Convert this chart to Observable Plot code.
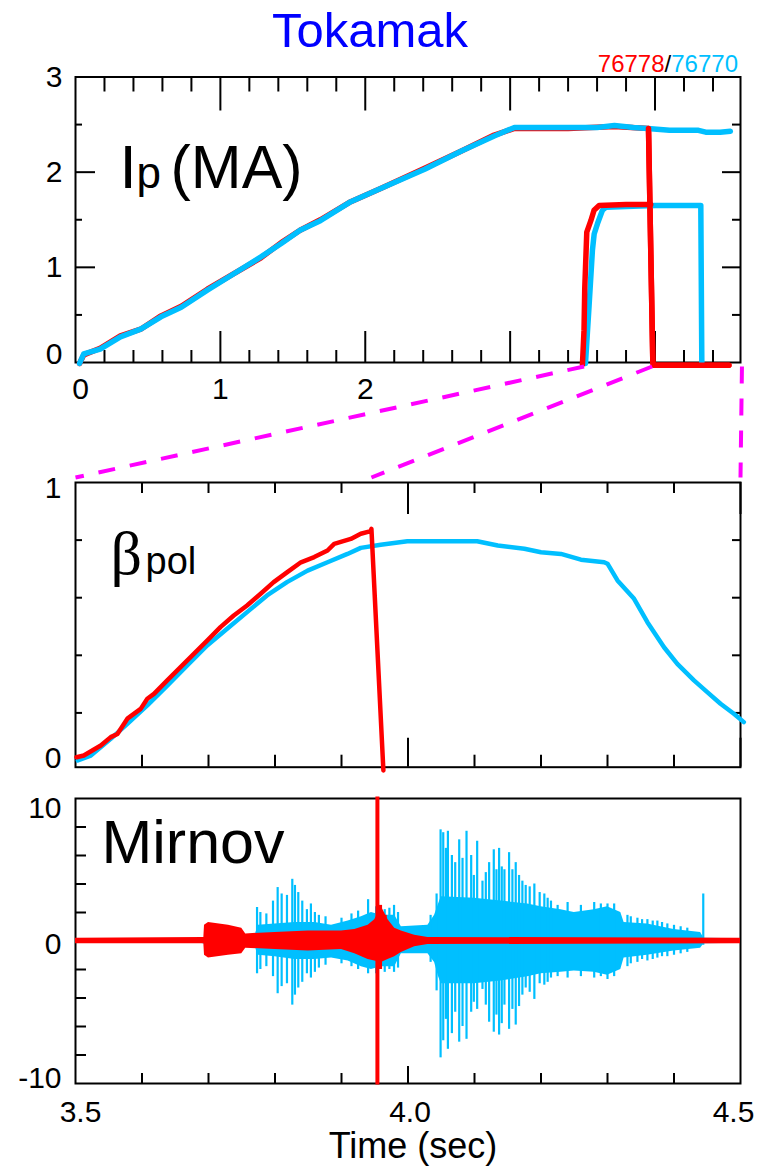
<!DOCTYPE html>
<html><head><meta charset="utf-8">
<script src="https://cdn.jsdelivr.net/npm/d3@7"></script>
<script src="https://cdn.jsdelivr.net/npm/@observablehq/plot@0.6"></script>
<style>
body{margin:0;background:#fff;}
#chart{position:relative;width:759px;height:1171px;font-family:"Liberation Sans",Arial,sans-serif;}
#title{position:absolute;left:0;width:740px;text-align:center;top:6px;font-size:49px;line-height:1;color:#0000ff;}
#legend{position:absolute;right:21px;top:52px;font-size:24px;line-height:1;color:#000;}
</style></head>
<body><div id="chart">
<div id="title">Tokamak</div>
<div id="legend"><span style="color:#ff0000">76778</span>/<span style="color:#00bfff">76770</span></div>
</div>
<script>
// ---------- data ----------
const shots = ["76778", "76770"];
// Ip panel (MA vs time s)
const ipBlueT = [0.028,0.057,0.17,0.31,0.45,0.59,0.73,0.91,1.09,1.28,1.42,1.55,1.69,1.90,2.11,2.41,2.66,2.89,3.03,3.40,3.60,3.72,3.85,3.95,4.10,4.30,4.35,4.45,4.52];
const ipBlueV = [-0.01,0.09,0.14,0.27,0.35,0.48,0.58,0.76,0.93,1.11,1.25,1.39,1.49,1.69,1.83,2.03,2.22,2.38,2.47,2.47,2.47,2.49,2.47,2.46,2.44,2.44,2.42,2.42,2.43];
const ipRedT = [0.028,0.057,0.17,0.31,0.45,0.59,0.73,0.91,1.09,1.28,1.42,1.55,1.69,1.90,2.11,2.41,2.66,2.89,3.03,3.40,3.72,3.955,3.985,3.99,4.51];
const ipRedV = [-0.01,0.08,0.15,0.28,0.35,0.49,0.59,0.77,0.93,1.10,1.26,1.39,1.50,1.69,1.83,2.04,2.22,2.39,2.46,2.46,2.48,2.46,0.0,-0.03,-0.03];
const stepBlueT = [3.52,3.545,3.568,3.58,3.603,3.637,3.66,3.80,4.00,4.20,4.316,4.323];
const stepBlueV = [-0.01,0.6,1.18,1.35,1.46,1.60,1.63,1.64,1.65,1.65,1.65,0.0];
const stepRedT = [3.499,3.510,3.515,3.529,3.557,3.579,3.614,3.80,3.97];
const stepRedV = [-0.02,0.34,0.78,1.37,1.49,1.60,1.65,1.66,1.66];
// beta_pol panel
const betaRedT = [3.5015,3.5125,3.538,3.553,3.563,3.578,3.598,3.608,3.618,3.638,3.658,3.678,3.698,3.718,3.738,3.758,3.778,3.798,3.818,3.839,3.859,3.879,3.889,3.914,3.929,3.944,3.945,3.963];
const betaRedV = [0.046,0.052,0.087,0.116,0.127,0.18,0.214,0.249,0.266,0.313,0.359,0.405,0.451,0.498,0.538,0.573,0.613,0.654,0.688,0.723,0.741,0.764,0.787,0.804,0.822,0.831,0.839,0.0];
const betaBlueT = [3.5035,3.523,3.553,3.578,3.608,3.638,3.668,3.698,3.728,3.758,3.788,3.818,3.849,3.879,3.909,3.929,3.959,3.999,4.104,4.135,4.175,4.20,4.23,4.26,4.295,4.30,4.315,4.34,4.36,4.385,4.405,4.43,4.45,4.47,4.49,4.505];
const betaBlueV = [0.035,0.052,0.11,0.162,0.226,0.295,0.365,0.434,0.492,0.55,0.608,0.654,0.694,0.723,0.752,0.773,0.784,0.796,0.796,0.781,0.770,0.758,0.752,0.732,0.723,0.718,0.66,0.596,0.515,0.428,0.37,0.313,0.272,0.232,0.197,0.168];
// Mirnov envelopes (lo/hi) and spikes
const mirBlueT  = [3.50,3.69,3.70,3.77,3.775,3.80,3.83,3.86,3.885,3.91,3.93,3.945,3.96,3.98,3.99,4.03,4.04,4.046,4.05,4.10,4.14,4.18,4.20,4.23,4.25,4.28,4.30,4.32,4.325,4.36,4.40,4.44,4.445,4.50];
const mirBlueLo = [-0.15,-0.18,-0.3,-0.4,-1.0,-1.1,-1.3,-1.3,-1.2,-1.4,-1.8,-2.0,-1.8,-1.8,-0.9,-0.9,-1.5,-2.5,-3.0,-3.0,-2.8,-2.5,-2.3,-2.2,-2.1,-2.2,-2.4,-2.0,-1.2,-1.0,-0.7,-0.5,-0.2,-0.15];
const mirBlueHi = [0.15,0.18,0.3,0.4,1.1,1.2,1.3,1.3,1.1,1.4,1.7,2.0,1.8,1.8,1.0,1.1,1.8,2.6,3.1,3.0,2.8,2.6,2.4,2.2,2.0,2.2,2.4,2.0,1.3,1.2,0.8,0.6,0.2,0.15];
const mirBlueSpikeT  = [3.773,3.778,3.787,3.797,3.804,3.810,3.818,3.826,3.830,3.835,3.841,3.848,3.854,3.860,3.866,3.876,3.900,3.915,3.925,3.94,3.952,3.965,3.972,3.979,3.985,4.034,4.043,4.049,4.053,4.057,4.060,4.066,4.071,4.077,4.082,4.088,4.095,4.099,4.104,4.112,4.117,4.122,4.129,4.133,4.137,4.141,4.145,4.152,4.157,4.162,4.167,4.172,4.177,4.183,4.190,4.198,4.205,4.210,4.215,4.225,4.24,4.26,4.28,4.29,4.30,4.31,4.33,4.335,4.345,4.352,4.36,4.368,4.375,4.382,4.39,4.40,4.41,4.42,4.444];
const mirBlueSpikeLo = [-2.3,-2.0,-1.8,-2.5,-3.7,-3.2,-3.0,-4.5,-3.8,-3.3,-2.9,-2.3,-2.6,-2.2,-1.9,-1.7,-1.6,-1.8,-2.0,-2.3,-2.3,-2.2,-2.0,-2.2,-1.9,-1.5,-3.5,-8.2,-7.0,-5.5,-7.6,-6.5,-5.0,-7.1,-6.0,-6.9,-5.0,-4.3,-4.8,-3.4,-4.5,-5.7,-6.4,-5.2,-6.6,-5.8,-4.5,-6.2,-4.8,-5.9,-4.6,-3.8,-3.3,-3.6,-4.1,-3.0,-3.1,-2.9,-2.6,-2.5,-2.6,-2.5,-2.6,-2.5,-2.7,-2.5,-1.8,-1.6,-1.5,-1.3,-1.4,-1.3,-1.2,-1.1,-1.1,-1.0,-0.9,-0.8,-0.3];
const mirBlueSpikeHi = [2.35,2.0,1.9,2.8,3.75,3.3,3.2,4.33,3.9,3.4,2.8,2.2,2.6,2.0,1.8,1.7,1.6,1.9,2.1,2.9,2.4,2.2,2.3,2.5,2.0,1.8,3.3,7.8,7.6,6.5,7.7,6.0,5.5,7.1,5.8,7.7,6.0,4.6,7.0,4.2,4.8,5.5,6.4,5.0,6.5,5.2,5.0,6.2,5.0,5.5,4.6,4.2,3.9,3.8,4.0,3.4,3.3,3.0,2.8,2.5,2.7,2.5,2.7,2.6,2.6,2.6,1.8,1.7,1.6,1.5,1.5,1.4,1.4,1.3,1.2,1.1,1.0,0.9,3.3];
const mirRedT  = [3.50,3.693,3.694,3.70,3.73,3.75,3.756,3.80,3.85,3.90,3.92,3.94,3.95,3.96,3.97,3.98,3.99,4.01,4.03,4.50];
const mirRedLo = [-0.2,-0.2,-1.0,-1.2,-1.0,-0.9,-0.5,-0.6,-0.7,-0.6,-0.9,-1.3,-1.4,-1.5,-1.3,-1.1,-0.8,-0.4,-0.25,-0.2];
const mirRedHi = [0.2,0.25,1.1,1.3,1.1,0.9,0.5,0.6,0.7,0.7,0.8,1.1,1.5,2.4,1.5,0.9,0.7,0.4,0.25,0.2];
const mirRedSpikeT  = [3.954,3.958,3.965];
const mirRedSpikeLo = [-10.1,-2.0,-1.2];
const mirRedSpikeHi = [10.1,2.5,1.8];
// zoom connectors: time in Ip panel -> time in lower panels
const zoomFrom = [3.51, 3.98, 4.6];
const zoomTo   = [3.5, 3.945, 4.5];
// ticks & labels
const ipXMinor = [0.2,0.4,0.6,0.8,1.2,1.4,1.6,1.8,2.2,2.4,2.6,2.8,3.2,3.4,3.6,3.8,4.2,4.4];
const ipXMajor = [1,2,3,4];
const ipYMinor = [0.5,1.5,2.5];
const ipYMajor = [1,2];
const ipXLabels = [0,1,2];
const ipYLabels = [0,1,2,3];
const tXMinor = [3.6,3.7,3.8,3.9,4.1,4.2,4.3,4.4];
const betaXMajor = [4.0,4.5];
const betaYMinor = [0.2,0.4,0.6,0.8];
const betaYLabels = [0,1];
const mirXMajor = [4.0];
const mirYMinor = [-8,-6,-4,-2,2,4,6,8];
const mirYLabels = [-10,0,10];
const mirXLabels = [3.5,4.0,4.5];

// ---------- helpers ----------
const zip = (T, V) => T.map((t, i) => ({t, v: V[i]}));
const zip3 = (T, L, H) => T.map((t, i) => ({t, lo: L[i], hi: H[i]}));
const RED = "#ff0000", BLUE = "#00bfff", MAG = "#ff00ff";
const FONT = "Liberation Sans, Arial, sans-serif";
const baseStyle = (top) => ({position: "absolute", left: "0px", top: top + "px", background: "transparent", overflow: "visible", fontFamily: FONT, fontSize: "30px", color: "black"});
const W = 759, ML = 75, MR = 19, FW = W - ML - MR;
const txt = (d) => d;

// ---------- Ip panel ----------
const ipH = 410, ipMT = 76.5, ipMB = 48, ipFH = ipH - ipMT - ipMB;
const ipRed = zip(ipRedT, ipRedV), ipBlue = zip(ipBlueT, ipBlueV);
const ip = Plot.plot({
  width: W, height: ipH, marginLeft: ML, marginRight: MR, marginTop: ipMT, marginBottom: ipMB,
  x: {domain: [0, 4.59], axis: null}, y: {domain: [0, 3], axis: null},
  style: baseStyle(0),
  marks: [
    Plot.frame({stroke: "black", strokeWidth: 2}),
    Plot.tickX(ipXMinor, {x: txt, insetBottom: ipFH - 15, strokeWidth: 2}),
    Plot.tickX(ipXMajor, {x: txt, insetBottom: ipFH - 34, strokeWidth: 2}),
    Plot.tickX(ipXMinor, {x: txt, insetTop: ipFH - 12, strokeWidth: 2}),
    Plot.tickX(ipXMajor, {x: txt, insetTop: ipFH - 31, strokeWidth: 2}),
    Plot.tickY(ipYMinor, {y: txt, insetRight: FW - 7, strokeWidth: 2}),
    Plot.tickY(ipYMajor, {y: txt, insetRight: FW - 20, strokeWidth: 2}),
    Plot.tickY(ipYMinor, {y: txt, insetLeft: FW - 8, strokeWidth: 2}),
    Plot.tickY(ipYMajor, {y: txt, insetLeft: FW - 18, strokeWidth: 2}),
    Plot.line(ipRed, {x: "t", y: "v", stroke: RED, strokeWidth: 5.5}),
    Plot.line(ipBlue, {x: "t", y: "v", stroke: BLUE, strokeWidth: 5.5}),
    Plot.line(zip(stepBlueT, stepBlueV), {x: "t", y: "v", stroke: BLUE, strokeWidth: 5.5}),
    Plot.line(zip(stepRedT, stepRedV), {x: "t", y: "v", stroke: RED, strokeWidth: 5.5}),
    Plot.line(ipRed.filter(d => d.t >= 3.95), {x: "t", y: "v", stroke: RED, strokeWidth: 5.5}),
    Plot.text(ipXLabels.filter(d => d > 0), {x: txt, text: d => String(d), frameAnchor: "bottom", dy: 36, lineAnchor: "bottom"}),
    Plot.text(ipXLabels.filter(d => d === 0), {x: txt, text: d => String(d), frameAnchor: "bottom", dy: 36, dx: 5, lineAnchor: "bottom"}),
    Plot.text(ipYLabels.filter(d => d > 0), {y: txt, text: d => String(d), frameAnchor: "left", dx: -13, textAnchor: "end", lineAnchor: "middle"}),
    Plot.text(ipYLabels.filter(d => d === 0), {y: txt, text: d => String(d), frameAnchor: "left", dx: -13, dy: -8, textAnchor: "end", lineAnchor: "middle"}),
    Plot.text(["I"], {text: txt, frameAnchor: "top-left", dx: 44, dy: 110.5, textAnchor: "start", lineAnchor: "bottom", fontSize: 62}),
    Plot.text(["p"], {text: txt, frameAnchor: "top-left", dx: 61, dy: 110.5, textAnchor: "start", lineAnchor: "bottom", fontSize: 44}),
    Plot.text(["(MA)"], {text: txt, frameAnchor: "top-left", dx: 95, dy: 110.5, textAnchor: "start", lineAnchor: "bottom", fontSize: 61})
  ]
});

// ---------- beta_pol panel ----------
const bTop = 440, bH = 340, bMT = 42, bMB = 13.3, bFH = bH - bMT - bMB;
const beta = Plot.plot({
  width: W, height: bH, marginLeft: ML, marginRight: MR, marginTop: bMT, marginBottom: bMB,
  x: {domain: [3.5, 4.5], axis: null}, y: {domain: [0.0115, 1], axis: null},
  style: baseStyle(bTop),
  marks: [
    Plot.frame({stroke: "black", strokeWidth: 2}),
    Plot.tickX(tXMinor, {x: txt, insetBottom: bFH - 11, strokeWidth: 2}),
    Plot.tickX(betaXMajor, {x: txt, insetBottom: bFH - 32, strokeWidth: 2}),
    Plot.tickX(tXMinor, {x: txt, insetTop: bFH - 12, strokeWidth: 2}),
    Plot.tickX(betaXMajor, {x: txt, insetTop: bFH - 29, strokeWidth: 2}),
    Plot.tickY(betaYMinor, {y: txt, insetRight: FW - 7, strokeWidth: 2}),
    Plot.tickY(betaYMinor, {y: txt, insetLeft: FW - 8, strokeWidth: 2}),
    Plot.line(zip(betaBlueT, betaBlueV), {x: "t", y: "v", stroke: BLUE, strokeWidth: 4.5}),
    Plot.line(zip(betaRedT, betaRedV), {x: "t", y: "v", stroke: RED, strokeWidth: 4.5}),
    Plot.text(betaYLabels.filter(d => d === 1), {y: txt, text: d => String(d), frameAnchor: "left", dx: -14, dy: 6, textAnchor: "end", lineAnchor: "middle"}),
    Plot.text(betaYLabels.filter(d => d === 0), {y: txt, text: d => String(d), frameAnchor: "left", dx: -14, dy: -12, textAnchor: "end", lineAnchor: "middle"}),
    Plot.text(["\u03b2"], {text: txt, frameAnchor: "top-left", dx: 35, dy: 91, textAnchor: "start", lineAnchor: "bottom", fontSize: 62, fontFamily: "Liberation Serif, serif"}),
    Plot.text(["pol"], {text: txt, frameAnchor: "top-left", dx: 70, dy: 91, textAnchor: "start", lineAnchor: "bottom", fontSize: 38})
  ]
});

// ---------- zoom connector ----------
const scaleFn = (s) => s.apply ? (v) => s.apply(v) : d3.scaleLinear(s.domain, s.range);
const fTop = scaleFn(ip.scale("x")), fMid = scaleFn(beta.scale("x"));
const links = zoomFrom.map((a, i) => ({a, b: zoomTo[i]}));
const conn = Plot.plot({
  width: W, height: 111, margin: 0,
  x: {type: "identity", axis: null},
  y: {type: "point", domain: ["Ip", "beta"], padding: 0, axis: null},
  style: baseStyle(366),
  marks: [
    Plot.link(links, {x1: d => fTop(d.a), x2: d => fMid(d.b), y1: () => "Ip", y2: () => "beta",
      stroke: MAG, strokeWidth: 4, strokeDasharray: "17,15", strokeLinecap: "butt"})
  ]
});

// ---------- Mirnov panel ----------
const mTop = 780, mH = 391, mMT = 18, mMB = 88, mFH = mH - mMT - mMB;
const mir = Plot.plot({
  width: W, height: mH, marginLeft: ML, marginRight: MR, marginTop: mMT, marginBottom: mMB,
  x: {domain: [3.5, 4.5], axis: null}, y: {domain: [-10, 10], axis: null},
  style: baseStyle(mTop),
  marks: [
    Plot.frame({stroke: "black", strokeWidth: 2}),
    Plot.tickX(tXMinor, {x: txt, insetTop: mFH - 10, strokeWidth: 2}),
    Plot.tickX(mirXMajor, {x: txt, insetTop: mFH - 17, strokeWidth: 2}),
    Plot.tickY(mirYMinor, {y: txt, insetRight: FW - 11, strokeWidth: 2}),
    Plot.areaY(zip3(mirBlueT, mirBlueLo, mirBlueHi), {x: "t", y1: "lo", y2: "hi", fill: BLUE}),
    Plot.ruleX(zip3(mirBlueSpikeT, mirBlueSpikeLo, mirBlueSpikeHi), {x: "t", y1: "lo", y2: "hi", stroke: BLUE, strokeWidth: 2.2}),
    Plot.areaY(zip3(mirRedT, mirRedLo, mirRedHi), {x: "t", y1: "lo", y2: "hi", fill: RED}),
    Plot.ruleX(zip3(mirRedSpikeT, mirRedSpikeLo, mirRedSpikeHi), {x: "t", y1: "lo", y2: "hi", stroke: RED, strokeWidth: 4}),
    Plot.text(mirYLabels.filter(d => d === 10), {y: txt, text: d => String(d), frameAnchor: "left", dx: -14, dy: 9.5, textAnchor: "end", lineAnchor: "middle"}),
    Plot.text(mirYLabels.filter(d => d === 0), {y: txt, text: d => String(d), frameAnchor: "left", dx: -14, dy: 3, textAnchor: "end", lineAnchor: "middle"}),
    Plot.text(mirYLabels.filter(d => d === -10), {y: txt, text: d => String(d), frameAnchor: "left", dx: -14, dy: -5, textAnchor: "end", lineAnchor: "middle"}),
    Plot.text(mirXLabels.filter(d => d === 3.5), {x: txt, text: d => d.toFixed(1), frameAnchor: "bottom", dy: 38, dx: 5, lineAnchor: "bottom"}),
    Plot.text(mirXLabels.filter(d => d === 4.0), {x: txt, text: d => d.toFixed(1), frameAnchor: "bottom", dy: 38, dx: 2, lineAnchor: "bottom"}),
    Plot.text(mirXLabels.filter(d => d === 4.5), {x: txt, text: d => d.toFixed(1), frameAnchor: "bottom", dy: 38, dx: -7, lineAnchor: "bottom"}),
    Plot.text(["Time (sec)"], {text: txt, frameAnchor: "bottom", dx: 5, dy: 74, lineAnchor: "bottom", fontSize: 36}),
    Plot.text(["Mirnov"], {text: txt, frameAnchor: "top-left", dx: 26, dy: 64, textAnchor: "start", lineAnchor: "bottom", fontSize: 61})
  ]
});

const chart = document.getElementById("chart");
chart.appendChild(ip);
chart.appendChild(conn);
chart.appendChild(beta);
chart.appendChild(mir);
</script>
</body></html>
